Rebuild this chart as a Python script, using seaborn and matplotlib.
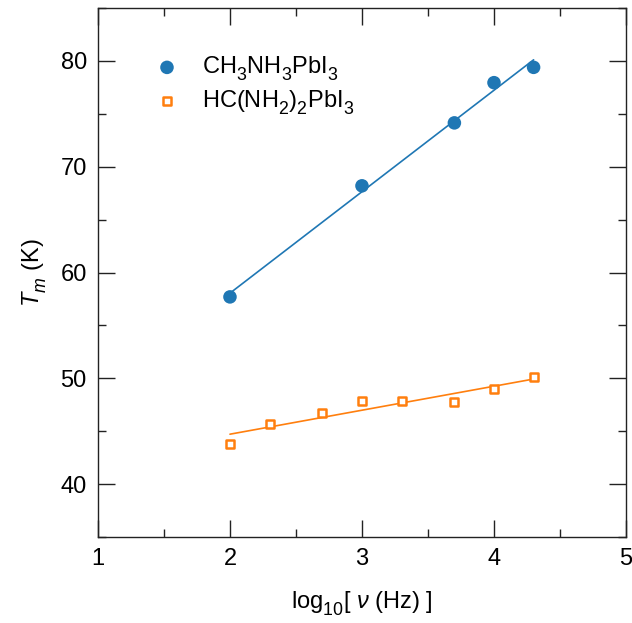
import numpy as np
import pandas as pd
import matplotlib
matplotlib.use("Agg")
import matplotlib.pyplot as plt
import seaborn as sns

# data
ma_x = [2.0, 3.0, 3.7, 4.0, 4.3]
ma_y = [57.7, 68.2, 74.15, 77.95, 79.4]
fa_x = [2.0, 2.3, 2.7, 3.0, 3.3, 3.7, 4.0, 4.3]
fa_y = [43.8, 45.7, 46.75, 47.9, 47.85, 47.8, 48.95, 50.1]
labels = [r"CH$_3$NH$_3$PbI$_3$", r"HC(NH$_2$)$_2$PbI$_3$"]
xticks = [1, 2, 3, 4, 5]
yticks = [40, 50, 60, 70, 80]

sns.set_style("ticks")
plt.rcParams["font.family"] = ["Liberation Sans", "DejaVu Sans"]
plt.rcParams["mathtext.fontset"] = "custom"
plt.rcParams["mathtext.rm"] = "Liberation Sans"
plt.rcParams["mathtext.it"] = "Liberation Sans:italic"
plt.rcParams["text.color"] = "black"
plt.rcParams["axes.labelcolor"] = "black"
plt.rcParams["xtick.labelcolor"] = "black"
plt.rcParams["ytick.labelcolor"] = "black"
try:
    import matplotlib._mathtext as _mt
    _mt.FontConstantsBase.sub1 = 0.55
    _mt.FontConstantsBase.sub2 = 0.65
    _mt.SHRINK_FACTOR = 0.75
except Exception:
    pass

fig = plt.figure(figsize=(6.32, 6.23), dpi=100)
ax = fig.add_axes([0.155, 0.138, 0.8355, 0.849])

blue = "#1f77b4"
orange = "#ff7f0e"

df_ma = pd.DataFrame({"x": ma_x, "y": ma_y})
df_fa = pd.DataFrame({"x": fa_x, "y": fa_y})

# linear fits
p1 = np.polyfit(ma_x, ma_y, 1)
p2 = np.polyfit(fa_x, fa_y, 1)
fx1 = np.array([min(ma_x), max(ma_x)])
fx2 = np.array([min(fa_x), max(fa_x)])
sns.lineplot(x=fx1, y=np.polyval(p1, fx1), ax=ax, color=blue, lw=1.2)
sns.lineplot(x=fx2, y=np.polyval(p2, fx2), ax=ax, color=orange, lw=1.2)

sns.scatterplot(data=df_ma, x="x", y="y", ax=ax, color=blue, s=95,
                edgecolor="none", marker="o", label=labels[0], zorder=3)
sns.scatterplot(data=df_fa, x="x", y="y", ax=ax, facecolor="white",
                edgecolor=orange, linewidth=1.8, s=38, marker="s",
                label=labels[1], zorder=3)

ax.set_xlim(1, 5)
ax.set_ylim(35, 85)
ax.set_xticks(xticks)
ax.set_yticks(yticks)
ax.set_xticks(np.arange(1.5, 5, 1.0), minor=True)
ax.set_yticks(np.arange(35, 86, 10), minor=True)
ax.tick_params(which="both", direction="in", top=True, right=True,
               labelsize=17, color="#222222", width=1.0, labelcolor="black")
ax.tick_params(which="major", length=12.5, pad=8)
ax.tick_params(which="minor", length=6)
for sp in ax.spines.values():
    sp.set_linewidth(1.0)
    sp.set_color("#222222")
    sp.set_visible(True)

ax.set_xlabel(r"log$_{10}$[ $\nu$ (Hz) ]", fontsize=17, labelpad=14)
ax.set_ylabel(r"$T_m$ (K)", fontsize=17, labelpad=8)

ax.legend(loc="upper left", bbox_to_anchor=(0.086, 0.93), frameon=False,
          fontsize=17, handletextpad=0.9, labelspacing=0.25, borderaxespad=0,
          handlelength=1.2)

fig.savefig("out.png", dpi=100)
